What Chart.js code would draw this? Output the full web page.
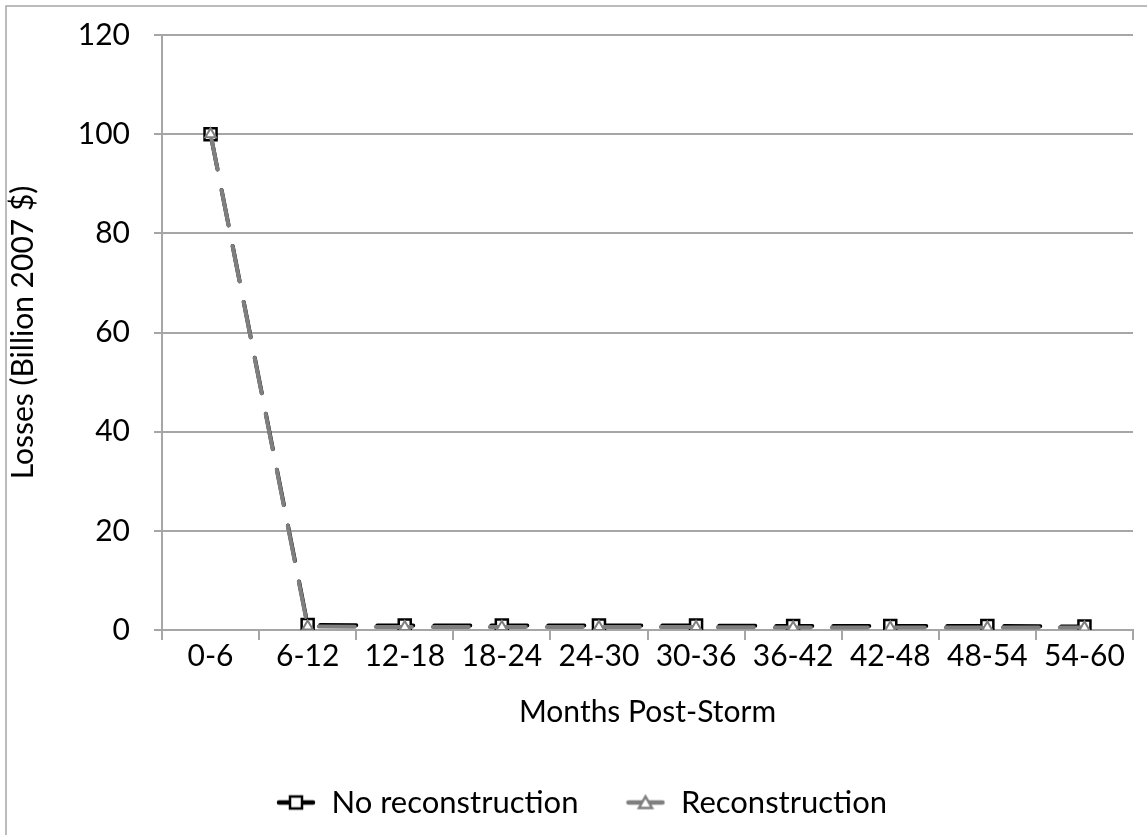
<!DOCTYPE html>
<html>
<head>
<meta charset="utf-8">
<script src="https://cdn.jsdelivr.net/npm/chart.js@4/dist/chart.umd.min.js"></script>
<style>
html,body{margin:0;padding:0;background:#fff;}
#wrap{position:absolute;left:0;top:0;width:1147px;height:835px;}
</style>
</head>
<body>
<div id="wrap"><canvas id="c" width="1147" height="835"></canvas></div>
<script>
const categories = ["0-6","6-12","12-18","18-24","24-30","30-36","36-42","42-48","48-54","54-60"];
const noReconstruction = [100, 1.0, 0.9, 0.9, 0.9, 0.9, 0.8, 0.8, 0.8, 0.7];
const reconstruction = [100, 0.7, 0.6, 0.6, 0.6, 0.6, 0.5, 0.5, 0.5, 0.5];
const yTicks = [0, 20, 40, 60, 80, 100, 120];
const seriesNames = ["No reconstruction", "Reconstruction"];
const xTitle = "Months Post-Storm";
const yTitle = "Losses (Billion 2007 $)";

const FONT = "Lato, 'Open Sans', sans-serif";
const GRAY = "#7f7f7f";
const LEGEND_PAD = 47;

function legendIcon(lineColor, markerColor, shape) {
  const cv = document.createElement('canvas');
  cv.width = 40; cv.height = 18;
  const g = cv.getContext('2d');
  g.strokeStyle = lineColor; g.lineWidth = 4.5; g.lineCap = 'round';
  g.beginPath(); g.moveTo(3, 9); g.lineTo(37, 9); g.stroke();
  g.fillStyle = '#fff'; g.strokeStyle = markerColor; g.lineWidth = 2.5;
  if (shape === 'rect') {
    g.fillRect(14, 3, 12, 12); g.strokeRect(14, 3, 12, 12);
  } else {
    g.beginPath(); g.moveTo(20, 3); g.lineTo(26.5, 14.5); g.lineTo(13.5, 14.5); g.closePath();
    g.fill(); g.stroke();
  }
  return cv;
}
const icons = [legendIcon('#000', '#000', 'rect'), legendIcon(GRAY, GRAY, 'triangle')];

const framePlugin = {
  id: 'frame',
  beforeLayout(chart) {
    const lg = chart.legend;
    if (lg && !lg._patched) {
      const orig = lg.fit;
      lg.fit = function () {
        orig.call(this);
        this.height = 95;
        if (this.lineWidths && this.lineWidths.length) this.lineWidths[0] -= 30;
      };
      lg._patched = true;
    }
  },
  beforeDraw(chart) {
    const ctx = chart.ctx;
    ctx.save();
    ctx.fillStyle = '#fff';
    ctx.fillRect(0, 0, chart.width, chart.height);
    ctx.strokeStyle = '#a6a6a6';
    ctx.lineWidth = 1.5;
    ctx.strokeRect(6, 6, 1160, 860);
    ctx.restore();
  }
};

new Chart(document.getElementById('c'), {
  type: 'line',
  data: {
    labels: categories,
    datasets: [
      {
        label: seriesNames[0],
        data: noReconstruction,
        borderColor: '#000',
        borderWidth: 4,
        borderDash: [36, 21],
        borderCapStyle: 'round',
        pointStyle: 'rect',
        pointRadius: 8.5,
        pointBorderWidth: 2.5,
        pointBorderColor: '#000',
        pointBackgroundColor: '#fff',
        fill: false,
        tension: 0,
        order: 1
      },
      {
        label: seriesNames[1],
        data: reconstruction,
        borderColor: GRAY,
        borderWidth: 4,
        borderDash: [36, 21],
        borderCapStyle: 'round',
        pointStyle: 'triangle',
        pointRadius: 6,
        pointBorderWidth: 2,
        pointBorderColor: GRAY,
        pointBackgroundColor: '#fff',
        fill: false,
        tension: 0,
        order: 0
      }
    ]
  },
  options: {
    responsive: false,
    animation: false,
    devicePixelRatio: 1,
    layout: { padding: { left: 0, right: 14, top: 35, bottom: 0 } },
    plugins: {
      tooltip: { enabled: false },
      legend: {
        position: 'bottom',
        labels: {
          usePointStyle: true,
          pointStyleWidth: 40,
          padding: LEGEND_PAD,
          color: '#000',
          font: { family: FONT, size: 31 },
          sort: (a, b) => a.datasetIndex - b.datasetIndex,
          generateLabels(chart) {
            return chart.data.datasets.map((ds, i) => ({
              text: ds.label,
              pointStyle: icons[i],
              datasetIndex: i,
              fillStyle: '#fff',
              strokeStyle: ds.borderColor,
              lineWidth: 0,
              hidden: false,
              fontColor: '#000'
            }));
          }
        }
      }
    },
    scales: {
      x: {
        type: 'category',
        offset: true,
        grid: {
          offset: true,
          drawOnChartArea: false,
          drawTicks: true,
          tickLength: 10,
          color: '#a6a6a6',
          lineWidth: 2
        },
        border: { display: true, color: '#a6a6a6', width: 2 },
        ticks: { color: '#000', font: { family: FONT, size: 30, lineHeight: 1.1 }, padding: 0, maxRotation: 0, autoSkip: false },
        title: { display: true, text: xTitle, color: '#000', font: { family: FONT, size: 30, lineHeight: 1.0 }, padding: { top: 0, bottom: 13 } },
        afterFit(scale) { scale.height = 110; }
      },
      y: {
        min: 0,
        max: 120,
        afterBuildTicks(scale) { scale.ticks = yTicks.map(v => ({ value: v })); },
        grid: {
          drawTicks: true,
          tickLength: 8,
          color: '#a6a6a6',
          lineWidth: 2
        },
        border: { display: true, color: '#a6a6a6', width: 2 },
        ticks: { color: '#000', font: { family: FONT, size: 30, lineHeight: 0.5 }, padding: 24 },
        title: { display: true, text: yTitle, color: '#000', font: { family: FONT, size: 30 }, padding: { top: 5, bottom: 5 } },
        afterFit(scale) { scale.width = 162; }
      }
    }
  },
  plugins: [framePlugin]
});
</script>
</body>
</html>
